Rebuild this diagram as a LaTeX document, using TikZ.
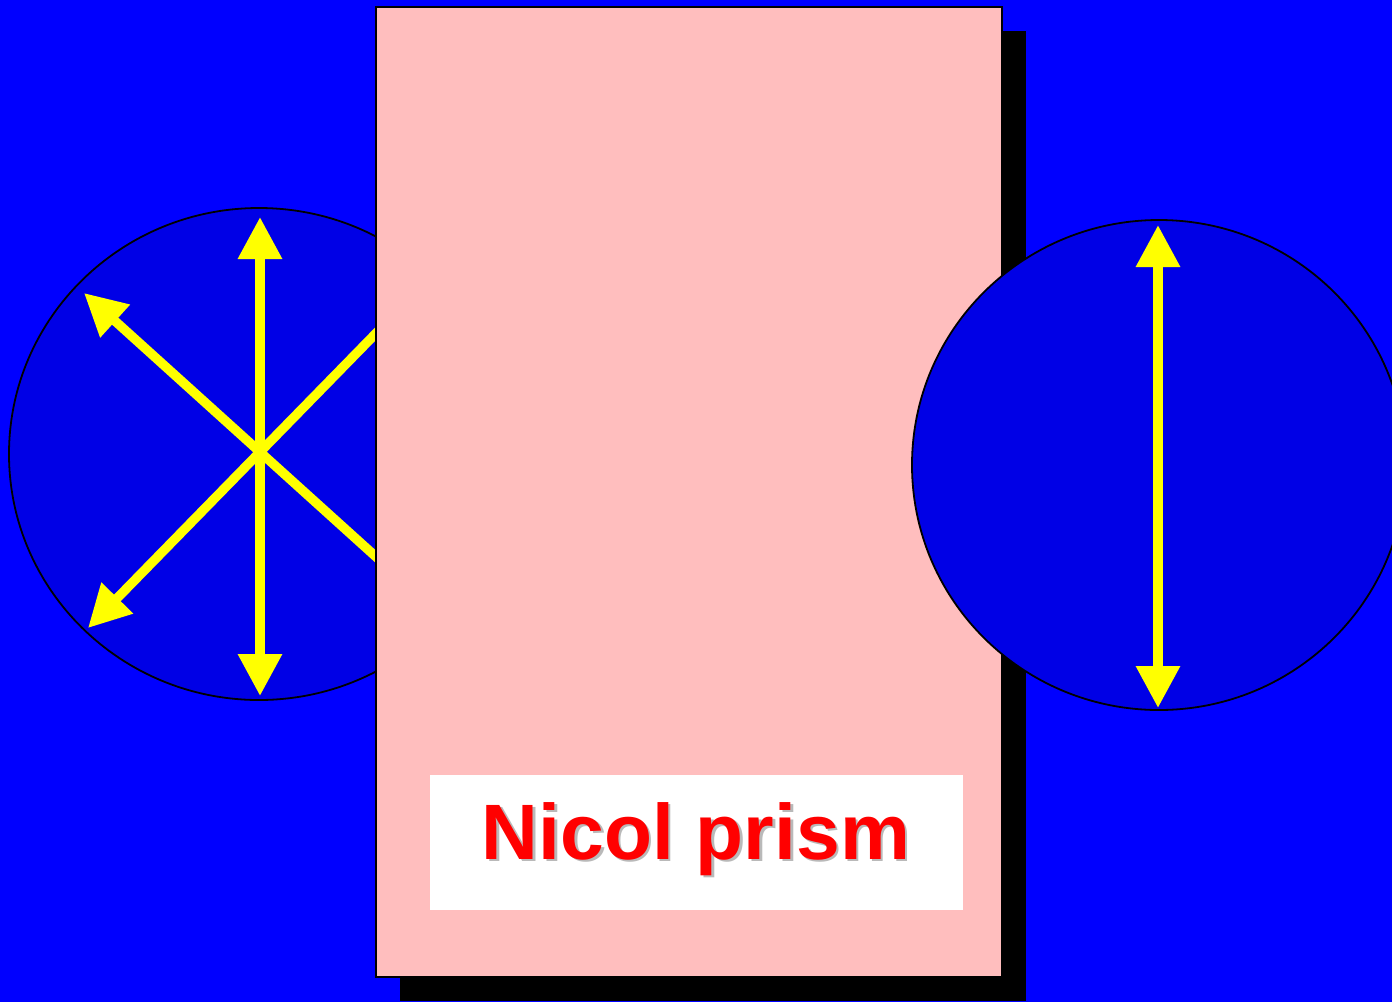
\documentclass[tikz,border=0pt]{standalone}
\usepackage{fontspec}
\setmainfont{Liberation Sans}
\usetikzlibrary{arrows.meta,shapes.geometric}
\definecolor{bgblue}{RGB}{0,0,255}
\definecolor{disccol}{RGB}{0,0,230}
\definecolor{prismpink}{RGB}{255,190,190}
\definecolor{polyellow}{RGB}{255,255,0}
\definecolor{txtshadow}{RGB}{185,185,185}
\definecolor{txtred}{RGB}{255,0,0}
\begin{document}
\begin{tikzpicture}[x=0.5pt,y=-0.5pt,
  disc/.style={ellipse, draw=black, line width=0.9pt, fill=disccol, inner sep=0pt, outer sep=0pt},
  pol/.style={draw=polyellow, fill=polyellow, line width=4.7pt,
    {Triangle[width=21pt,length=21pt]}-{Triangle[width=21pt,length=21pt]}},
  prismbox/.style={rectangle, inner sep=0pt, outer sep=0pt, minimum width=313pt, minimum height=485pt},
  lbl/.style={font=\fontsize{39.3pt}{47pt}\selectfont\bfseries, inner sep=0pt, anchor=base}
]
\fill[bgblue] (0,0) rectangle (1392,1002);
\useasboundingbox (0,0) rectangle (1392,1002);

% left disc (unpolarised light)
\node[disc, minimum width=250pt, minimum height=246pt] (ldisc) at (259,454) {};
\coordinate (lvt) at (260,217);
\coordinate (lvb) at (260,696);
\coordinate (ld1a) at (84,293);
\coordinate (ld1b) at (436,611);
\coordinate (ld2a) at (88,628);
\coordinate (ld2b) at (432,276);
\draw[pol] (lvb) -- (lvt);
\draw[pol] (ld1b) -- (ld1a);
\draw[pol] (ld2b) -- (ld2a);

% prism with shadow
\node[prismbox, fill=black] (shadow) at (713,516) {};
\node[prismbox, fill=prismpink, draw=black, line width=0.75pt] (prism) at (689,492) {};

% label box
\node[rectangle, fill=white, inner sep=0pt, minimum width=266.5pt, minimum height=67.5pt] (lblbox) at (696.5,842.5) {};
\node[lbl, text=txtshadow] (lblshadow) at (698.5,861) {Nicol prism};
\node[lbl, text=txtred] (lbltext) at (696,859) {Nicol prism};

% right disc (polarised light)
\node[disc, minimum width=247pt, minimum height=245pt] (rdisc) at (1159,465) {};
\coordinate (rvt) at (1158,225);
\coordinate (rvb) at (1158,708);
\draw[pol] (rvb) -- (rvt);
\end{tikzpicture}
\end{document}
